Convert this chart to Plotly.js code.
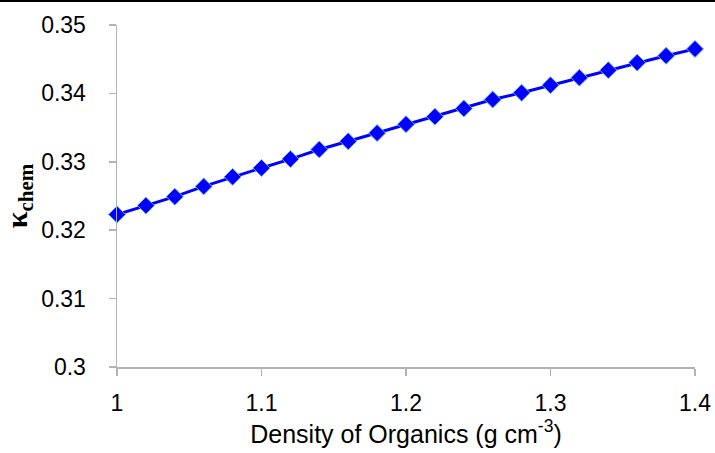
<!DOCTYPE html>
<html>
<head>
<meta charset="utf-8">
<script src="https://cdn.plot.ly/plotly-3.0.1.min.js"></script>
<style>
html,body{margin:0;padding:0;background:#fff;}
#wrap{position:relative;width:715px;height:453px;}
#chart{width:715px;height:453px;}
#topline{position:absolute;left:0;top:0;width:715px;height:2px;background:#000;}
</style>
</head>
<body>
<div id="wrap"><div id="chart"></div><div id="topline"></div></div>
<script>
const density = [1.00,1.02,1.04,1.06,1.08,1.10,1.12,1.14,1.16,1.18,1.20,1.22,1.24,1.26,1.28,1.30,1.32,1.34,1.36,1.38,1.40];
const kappaChem = [0.3223,0.3236,0.3249,0.3264,0.3278,0.3291,0.3304,0.3318,0.3330,0.3342,0.3355,0.3366,0.3378,0.3391,0.3401,0.3412,0.3423,0.3434,0.3445,0.3455,0.3465];
const xTicks = [1,1.1,1.2,1.3,1.4];
const xTickText = ['1','1.1','1.2','1.3','1.4'];
const yTicks = [0.3,0.31,0.32,0.33,0.34,0.35];
const yTickText = ['0.3','0.31','0.32','0.33','0.34','0.35'];

const trace = {
  x: density, y: kappaChem, type: 'scatter', mode: 'lines+markers',
  line: {color: '#0000FF', width: 3},
  marker: {symbol: 'diamond', size: 13, color: '#0000FF', line: {color: '#6FA8DC', width: 1}},
  cliponaxis: false, showlegend: false
};
const layout = {
  width: 715, height: 453,
  margin: {l: 117, r: 20, t: 25, b: 86},
  paper_bgcolor: '#fff', plot_bgcolor: '#fff',
  font: {family: 'Liberation Sans, Arial, sans-serif', color: '#000'},
  xaxis: {
    range: [1, 1.4], tickvals: xTicks, ticktext: xTickText,
    showgrid: false, zeroline: false, showline: true, linecolor: '#B3B3B3', linewidth: 1.5,
    ticks: 'outside', ticklen: 7, tickcolor: '#B3B3B3', tickwidth: 1.5,
    tickfont: {size: 23}, ticklabelstandoff: 8,
    title: {text: 'Density of Organics (g cm<sup>-3</sup>)', font: {size: 25}, standoff: 7}
  },
  yaxis: {
    range: [0.3, 0.35], tickvals: yTicks, ticktext: yTickText,
    showgrid: false, zeroline: false, showline: true, linecolor: '#B3B3B3', linewidth: 1.5,
    ticks: 'outside', ticklen: 7, tickcolor: '#B3B3B3', tickwidth: 1.5,
    tickfont: {size: 23}, ticklabelstandoff: 18,
    title: {text: '<b>κ<sub>chem</sub></b>', font: {size: 30, family: 'Liberation Serif, Times New Roman, serif'}, standoff: 10}
  }
};
Plotly.newPlot('chart', [trace], layout, {displayModeBar: false, staticPlot: true});
</script>
</body>
</html>
